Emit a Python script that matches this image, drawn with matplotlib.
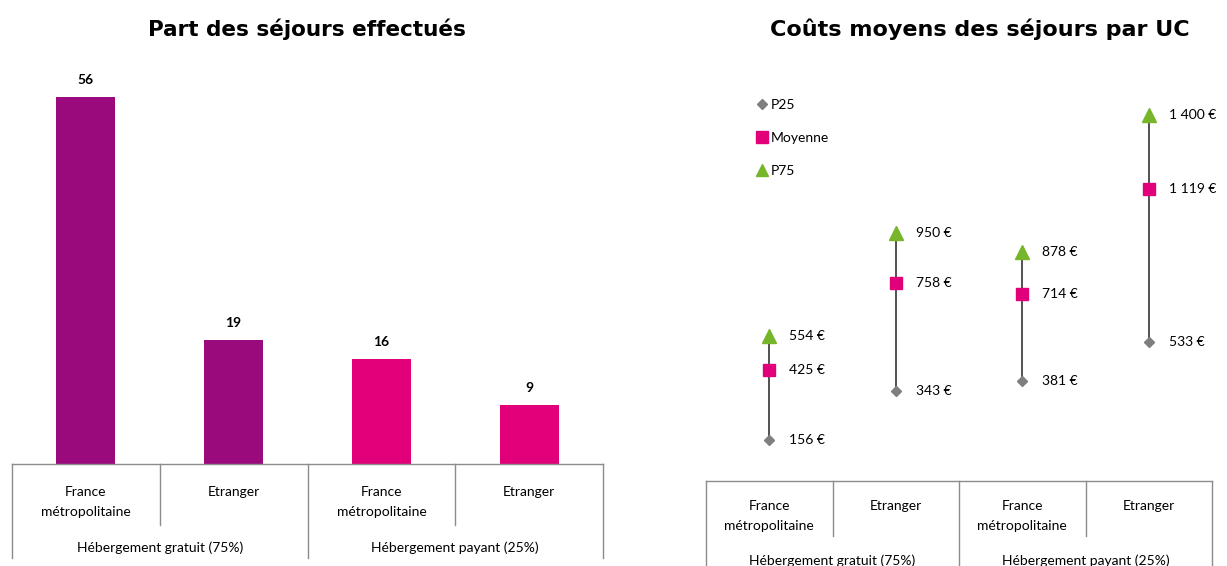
import matplotlib.pyplot as plt
from matplotlib.lines import Line2D

# data
categories = ["France\nmétropolitaine", "Etranger", "France\nmétropolitaine", "Etranger"]
groups = ["Hébergement gratuit (75%)", "Hébergement payant (25%)"]
part_sejours = [56, 19, 16, 9]
p25 = [156, 343, 381, 533]
moyenne = [425, 758, 714, 1119]
p75 = [554, 950, 878, 1400]

purple = "#9B0A7D"
pink = "#E2007A"
green = "#77B52B"
grey = "#7F7F7F"
line_col = "#8C8C8C"
font = ["Lato", "DejaVu Sans"]

W, H = 1227, 566
fig = plt.figure(figsize=(W / 100, H / 100), dpi=100)


def rect(x0, y_top, w, h):
    # pixel box (top-left origin) -> figure fraction
    return [x0 / W, (H - y_top - h) / H, w / W, h / H]


def euro(v):
    return "{:,}".format(v).replace(",", " ") + " €"


def draw_table(tax, h_px, split_px, cat_px, grp_px):
    tax.set_xlim(-0.5, 3.5)
    tax.set_ylim(h_px, 0)
    tax.axis("off")
    kw = dict(color=line_col, lw=1, clip_on=False)
    tax.plot([-0.5, 3.5], [0, 0], **kw)
    for x in [-0.5, 1.5, 3.5]:
        tax.plot([x, x], [0, h_px], **kw)
    for x in [0.5, 2.5]:
        tax.plot([x, x], [0, split_px], **kw)
    for i, c in enumerate(categories):
        tax.text(i, cat_px, c, ha="center", va="top", fontsize=10,
                 family=font, linespacing=1.75)
    for i, g in enumerate(groups):
        tax.text(2 * i + 0.5, grp_px, g, ha="center", va="center",
                 fontsize=10, family=font)


# ---- left: bars
ax1 = fig.add_axes(rect(12, 71, 591, 393))
x = range(len(part_sejours))
bars = ax1.bar(x, part_sejours, width=0.4, color=[purple, purple, pink, pink])
for b, v in zip(bars, part_sejours):
    ax1.annotate(str(v), (b.get_x() + b.get_width() / 2, v), xytext=(0, 17),
                 textcoords="offset pixels", ha="center", va="center",
                 fontsize=10, fontweight="bold", family=font)
ax1.set_xlim(-0.5, 3.5)
ax1.set_ylim(0, 60)
ax1.axis("off")

t1 = fig.add_axes(rect(12, 464, 591, 94))
draw_table(t1, 94, 61, 22, 84)

# ---- right: P25 / moyenne / P75
ax2 = fig.add_axes(rect(706, 63, 506, 418))
for i in range(len(p25)):
    ax2.plot([i, i], [p25[i], p75[i]], color="#333333", lw=1.2, zorder=1)
ax2.plot(range(4), p25, "D", color=grey, ms=5, ls="none", zorder=2)
ax2.plot(range(4), moyenne, "s", color=pink, ms=9, ls="none", zorder=2)
ax2.plot(range(4), p75, "^", color=green, ms=10, ls="none", zorder=2)
for serie in [p25, moyenne, p75]:
    for i, v in enumerate(serie):
        ax2.annotate(euro(v), (i, v), xytext=(20, 0), textcoords="offset pixels",
                     ha="left", va="center", fontsize=10, family=font)
ax2.set_xlim(-0.5, 3.5)
ax2.set_ylim(0, 1600)
ax2.axis("off")

handles = [
    Line2D([], [], marker="D", color=grey, ms=5, ls="none"),
    Line2D([], [], marker="s", color=pink, ms=8, ls="none"),
    Line2D([], [], marker="^", color=green, ms=8, ls="none"),
]
ax2.legend(handles, ["P25", "Moyenne", "P75"], loc="upper left",
           bbox_to_anchor=(0.075, 0.943), frameon=False, handlelength=0.8,
           handletextpad=0.2, labelspacing=1.5, prop={"family": font, "size": 10})

t2 = fig.add_axes(rect(706, 481, 506, 94))
draw_table(t2, 94, 55, 19, 80)

# titles
fig.text(307 / W, 1 - 29 / H, "Part des séjours effectués", ha="center",
         va="center", fontsize=15.5, fontweight="bold", family="DejaVu Sans")
fig.text(980 / W, 1 - 29 / H, "Coûts moyens des séjours par UC", ha="center",
         va="center", fontsize=16, fontweight="bold", family="DejaVu Sans")

fig.savefig("out.png", dpi=100)
plt.close()
